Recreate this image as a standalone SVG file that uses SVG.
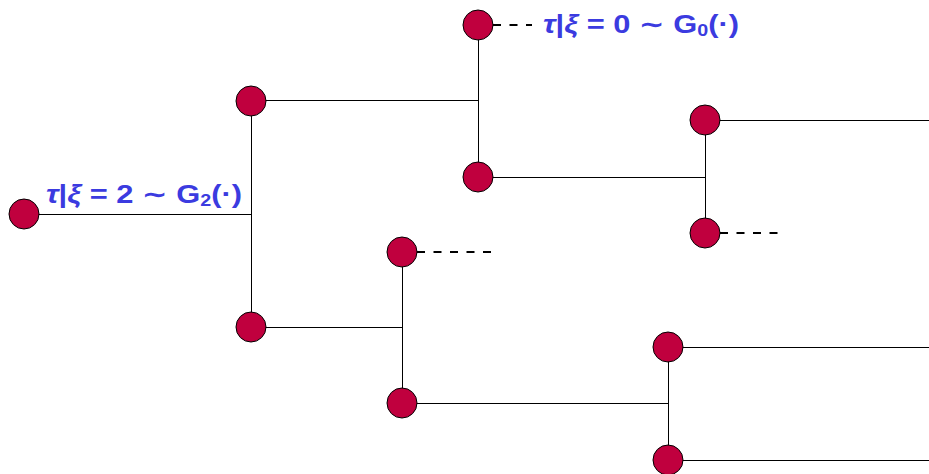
<svg xmlns="http://www.w3.org/2000/svg" width="929" height="474" viewBox="0 0 929 474">
<style>
.e{stroke:#000;stroke-width:1;fill:none}
.d{stroke:#000;stroke-width:2;fill:none;stroke-dasharray:8 8.5}
.n{fill:#c0003e;stroke:#000;stroke-width:1}
.t{font-family:"Liberation Sans","DejaVu Sans",sans-serif;font-weight:bold;font-size:25px;fill:#3b3be0}
.g{font-style:italic}
</style>
<rect width="929" height="474" fill="#fff"/>
<g id="connectors">
<path class="e" d="M24 214.5H251.5M251.5 101V327"/>
<path class="e" d="M251 100.5H478.5M478.5 25V177"/>
<path class="e" d="M478 177.5H705.5M705.5 120V233"/>
<path class="e" d="M705 120.5H929"/>
<path class="e" d="M251 327.5H402.5M402.5 252V403"/>
<path class="e" d="M402 403.5H668.5M668.5 347V460"/>
<path class="e" d="M668 347.5H929M668 460.5H929"/>
<path class="d" d="M493 25H532"/>
<path class="d" d="M417 252H491"/>
<path class="d" d="M720 233H778"/>
</g>
<g id="n0"><circle class="n" cx="24" cy="214" r="15"/></g>
<g id="n1"><circle class="n" cx="251" cy="101" r="15"/></g>
<g id="n2"><circle class="n" cx="251" cy="327" r="15"/></g>
<g id="n3"><circle class="n" cx="478" cy="25" r="15"/></g>
<g id="n4"><circle class="n" cx="478" cy="177" r="15"/></g>
<g id="n5"><circle class="n" cx="705" cy="120" r="15"/></g>
<g id="n6"><circle class="n" cx="705" cy="233" r="15"/></g>
<g id="n7"><circle class="n" cx="402" cy="252" r="15"/></g>
<g id="n8"><circle class="n" cx="402" cy="403" r="15"/></g>
<g id="n9"><circle class="n" cx="668" cy="347" r="15"/></g>
<g id="n10"><circle class="n" cx="668" cy="460" r="15"/></g>
<g id="label0"><text class="t" x="46" y="203" textLength="196" lengthAdjust="spacingAndGlyphs"><tspan class="g">τ</tspan>|<tspan class="g">ξ</tspan> = 2 ∼ G<tspan font-size="16" dy="3">2</tspan><tspan dy="-3">(·)</tspan></text></g>
<g id="label1"><text class="t" x="543" y="33" textLength="196" lengthAdjust="spacingAndGlyphs"><tspan class="g">τ</tspan>|<tspan class="g">ξ</tspan> = 0 ∼ G<tspan font-size="16" dy="3">0</tspan><tspan dy="-3">(·)</tspan></text></g>
</svg>
